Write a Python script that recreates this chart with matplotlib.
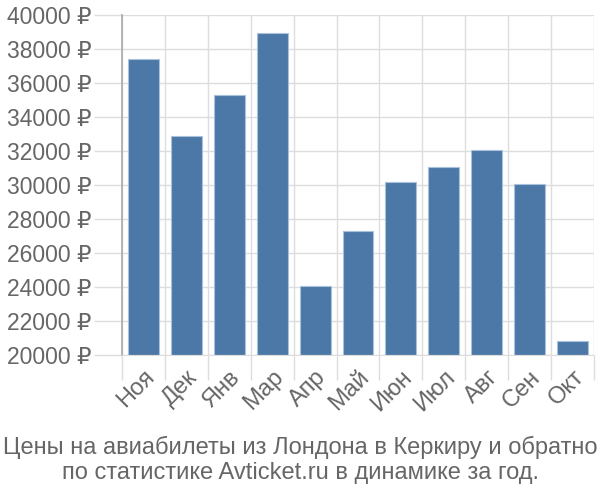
import matplotlib.pyplot as plt
import numpy as np

plt.rcParams['font.family'] = ['Liberation Sans', 'DejaVu Sans']

months = ['Ноя', 'Дек', 'Янв', 'Мар', 'Апр', 'Май', 'Июн', 'Июл', 'Авг', 'Сен', 'Окт']
prices = [37400, 32900, 35300, 38950, 24050, 27300, 30200, 31050, 32050, 30050, 20800]
yticks = list(range(20000, 40001, 2000))
title = 'Цены на авиабилеты из Лондона в Керкиру и обратно\nпо статистике Avticket.ru в динамике за год.'

grey = '#666666'
grid = '#dddddd'
fs = 17

fig = plt.figure(figsize=(6, 5), dpi=100)
ax = fig.add_axes([0.2033, 0.29, 0.7867, 0.68])

x = np.arange(len(months))
ax.bar(x, [p - 20000 for p in prices], bottom=20000, width=0.72,
       color='#4c78a8', edgecolor='#a9c1dc', linewidth=0.8, zorder=2)

ax.set_xlim(-0.5, len(months) - 0.5)
ax.set_ylim(20000, 40000)
ax.set_yticks(yticks)
ax.set_yticklabels([f'{v} ₽' for v in yticks])

ax.set_xticks(x)
ax.set_xticklabels(months, rotation=45, ha='right', va='top', rotation_mode='anchor')
ax.set_xticks(np.arange(-0.5, len(months)), minor=True)
ax.tick_params(axis='x', which='major', length=0, pad=8, labelsize=fs, labelcolor=grey)
ax.tick_params(axis='x', which='minor', length=18, width=1, color=grid)
ax.tick_params(axis='y', length=20, width=1, color=grid, labelsize=16.5, labelcolor=grey, pad=2)

ax.grid(True, which='minor', axis='x', color=grid, linewidth=1, zorder=0)
ax.grid(True, which='major', axis='y', color=grid, linewidth=1, zorder=0)

for s in ['top', 'right']:
    ax.spines[s].set_visible(False)
ax.spines['bottom'].set_color(grid)
ax.spines['left'].set_color('#aaaaaa')
ax.spines['left'].set_linewidth(1.2)

fig.text(0.5, 0.08, title, ha='center', va='center', fontsize=fs,
         color=grey, linespacing=1.15)

fig.savefig('out.png', dpi=100)
